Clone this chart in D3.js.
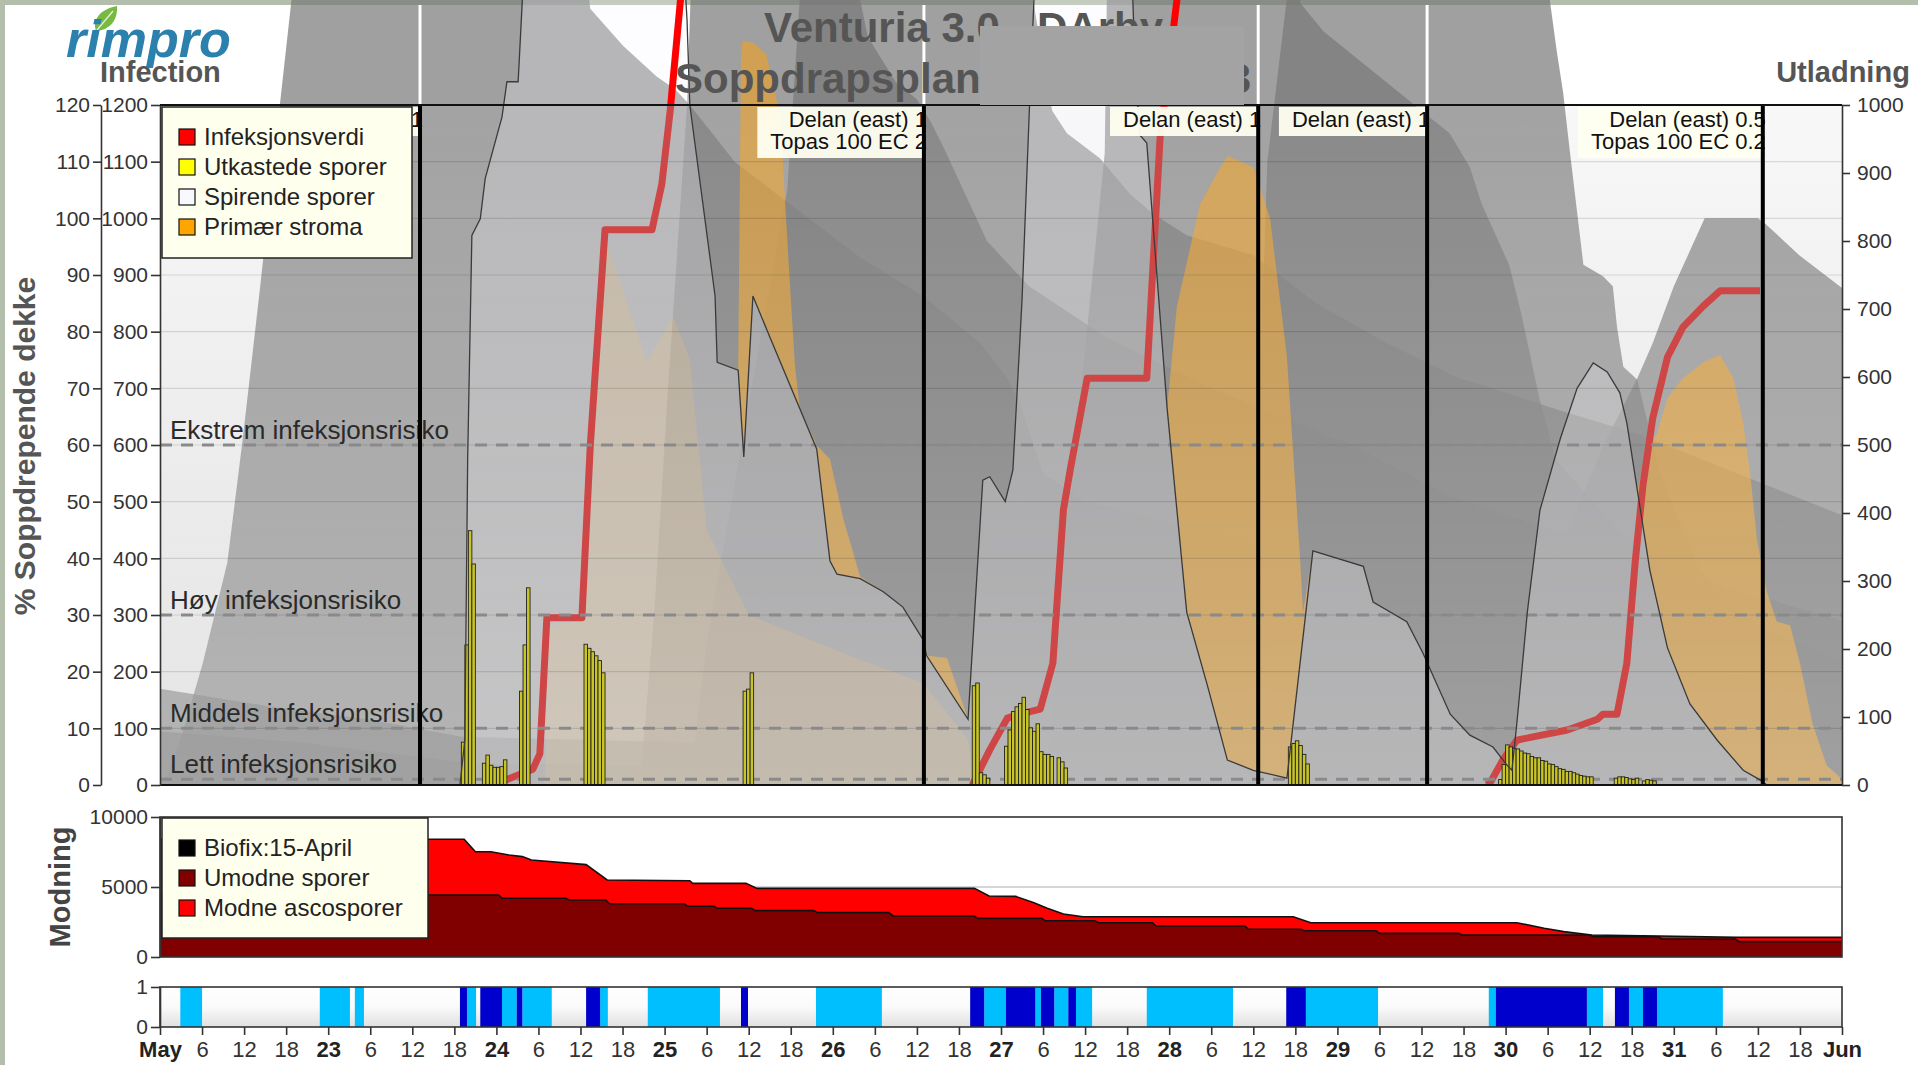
<!DOCTYPE html>
<html><head><meta charset="utf-8">
<script src="https://cdn.jsdelivr.net/npm/d3@7"></script>
<style>
body{margin:0;background:#fff;}
svg{display:block;}
text{font-family:"Liberation Sans",Arial,sans-serif;}
</style></head><body>
<script>
// time is in hours from 22 May 00:00, 10 days shown

// Infeksjonsverdi (inner left axis 0-1200), three infection periods
var infA = [[47.5,0],[50.4,14],[53.2,28],[54.2,55],[55.2,295],[60.2,295],[61.4,600],[63.5,980],[70.2,980],[71.6,1060],[72.8,1190],[74.3,1390],[75.3,1500]];
var infB = [[115.9,0],[118.4,62],[120.9,118],[122.7,125],[125.6,134],[127.4,215],[128.9,485],[129.9,558],[132.3,718],[140.8,718],[142.7,1142],[145.1,1385],[146.3,1500]];
var infC = [[189.3,0],[189.8,4],[191.6,44],[193.6,79],[195.9,85],[200.8,97],[205.1,116],[205.9,125],[207.9,125],[209.3,215],[210.5,395],[211.6,529],[213.0,648],[215.1,755],[217.3,808],[220.2,845],[222.6,872],[228.3,872]];

// Utkastede sporer (right axis 0-1000), half hour bars
var utkastede = [[43.0,63],[43.5,206],[44.0,374],[44.5,325],
  [46.0,32],[46.5,44],[47.0,29],[47.5,26],[48.0,26],[48.5,27],[49.0,37],
  [51.3,138],[51.8,206],[52.3,290],
  [60.5,207],[61.0,201],[61.5,196],[62.0,190],[62.5,183],[63.0,165],
  [83.2,138],[83.7,141],[84.2,165],
  [115.9,146],[116.4,150],[116.9,18],[117.4,15],[117.9,10],
  [120.5,57],[121.0,81],[121.5,108],[122.0,115],[122.5,120],[123.0,129],[123.5,111],[124.0,84],[124.5,79],[125.0,90],[125.5,49],[126.0,45],[126.5,45],[127.0,42],[128.0,40],[128.5,34],[129.0,25],
  [161.0,56],[161.5,61],[162.0,65],[162.5,58],[163.0,45],[163.5,31],
  [191.0,8],[191.5,30],[192.0,59],[192.5,56],[193.0,54],[193.5,53],[194.0,50],[194.5,47],[195.0,46],[195.5,42],[196.0,40],[196.5,40],[197.0,36],[197.5,35],[198.0,31],[198.5,30],[199.0,27],[199.5,24],[200.0,23],[200.5,20],[201.0,20],[201.5,18],[202.0,16],[202.5,14],[203.0,13],[203.5,12],[204.0,12],
  [207.5,10],[208.0,12],[208.5,12],[209.0,11],[209.5,9],[210.0,8],[210.5,10],
  [211.5,6],[212.0,8],[212.5,7],[213.0,6]];

// Spirende sporer (inner left axis)
var spirende = [[42.8,0],[43.5,80],[43.9,575],[44.5,970],[45.7,999],[46.4,1070],[48.8,1179],[49.5,1241],[51.1,1241],[51.7,1385],[53,1500],[74.5,1500],[75.2,1350],[75.6,1200],[79.2,863],[79.5,746],[82.5,732],[83.3,579],[84.6,863],[87.0,791],[93.7,593],[95.6,395],[96.6,372],[99.9,364],[103.2,341],[106.0,314],[108.9,256],[109.4,228],[115.3,116],[117.4,538],[118.4,544],[120.6,500],[121.7,556],[123.0,856],[124.1,1209],[124.7,1385],[125.5,1500],[138.5,1500],[139.1,1279],[139.8,1147],[140.8,1133],[143.7,665],[146.5,305],[149.4,178],[152.3,44],[156.0,26],[160.8,12],[164.5,413],[171.7,386],[173.1,323],[177.9,288],[180.2,233],[184.1,125],[186.9,88],[190.2,67],[192.2,35],[192.9,26],[193.6,108],[195.1,305],[196.9,485],[199.8,611],[202.2,700],[204.5,745],[206.5,729],[208.3,692],[209.3,639],[210.8,520],[212.6,378],[215.1,242],[218.3,143],[222.2,79],[225.9,26],[228.3,9],[229.3,0]];

// Primaer stroma, stacked on top of Spirende sporer (top of stack, inner axis)
var stromaTop1 = [[82.5,732],[82.9,1290],[83.1,1313],[84.6,1310],[86.5,1290],[88.5,1180],[89.8,900],[90.6,740],[91.3,664],[93.7,600],[95.6,575],[97.5,470],[99.9,368],[103.2,341],[108.9,256],[109.6,228],[112.3,224],[115.3,116]];
var stromaTop2 = [[143.7,665],[145.1,845],[148.4,1025],[151.3,1090],[152.4,1110],[156.0,1090],[158.4,1000],[160.8,755],[162.7,395],[163.1,305],[164.5,413]];
var stromaTop3 = [[210.8,520],[212.2,590],[213.6,620],[215.1,683],[217.3,718],[220.2,746],[222.6,759],[224.5,718],[225.9,639],[226.9,549],[227.9,430],[229.3,340],[230.7,288],[232.6,282],[234,215],[235.8,108],[237.8,35],[240,10]];
// pale stroma tint seen under the first infection (outer axis, %)
var stromaPale = [[54.9,0],[55.4,28],[60.6,29],[62.8,92.6],[63.8,95.3],[69.5,74.6],[73.2,82.8],[75.6,75],[78,45],[84,30],[100,22],[108.9,18],[115.3,8],[116.3,0]];

// Soppdrepende dekke (outer left axis, %)
var coverA = [[-1,0],[1,1.6],[2.9,7.9],[6.1,21.5],[9.6,39.2],[11.8,61],[14.3,88],[17.1,120],[18.8,139],[20,150],[60,150],[61.4,137],[66.1,130.4],[70.9,125],[73.5,122.8],[75.6,120],[82,110],[89.9,102.5],[100,93],[108.9,86.3],[117,78],[120.9,71.8],[122.7,67.4],[126,55],[132,50],[145,46],[165,40],[185,34],[210,27],[240,20]];
var coverB = [[68.5,0],[70.5,30],[72.5,70],[75.2,120],[76,150],[98,150],[101,132],[105,124],[108,121],[110,117],[112,112],[115,104],[118,96],[124,88],[135,79],[150,70],[170,60],[184,51],[215,38],[240,29]];
var coverC = [[75.6,0],[78,25],[85.2,75.5],[89.5,105],[91.3,139],[92,150],[123,150],[124.5,139],[127.3,119],[129.4,115],[134.1,110.6],[138.4,104.3],[141.7,100.8],[146.5,97],[156,93.5],[165,85],[175,78],[185,72],[200,66],[210.8,62],[225,55],[240,47.6]];
var coverD = [[126.6,0],[129.9,50],[132.7,85.6],[134.8,111.5],[135.1,139],[136,150],[197,150],[198.3,138.6],[199.3,129.5],[200.2,122.3],[201.2,111.5],[203.1,91.8],[205.9,89.8],[207.3,88],[207.9,80.8],[208.8,73.8],[210.8,71.5],[214,55],[219.7,38],[230,26],[240,18.5]];
var coverE = [[155.8,0],[156.7,60],[158,110],[160.8,139],[161.5,150],[162.3,150],[162.7,138],[166,133],[170,129],[175,124],[180,119],[184,115],[186.9,109],[188.6,102.5],[192.5,91.8],[194.3,82.8],[196.8,68.3],[199.1,57.5],[205.5,48.5],[212,40],[220,32],[240,22]];
var coverF = [[188.8,0],[193.6,21.5],[200,42],[206,60],[210.8,71.8],[213,78],[216,88],[220.4,100],[228,100],[229.1,99],[233.9,93.5],[240,87.7]];
var coverLow1 = [[0,17],[15,14],[30,11.5],[43,8.5],[60,8],[90,7],[120,6],[160,5],[200,4],[240,3.5]];
var coverLow2 = [[0,9.5],[20,7.5],[43,4],[80,3],[240,2]];
var coverLow3 = [[180,0],[181.5,23],[184,21.5],[240,17.8]];

// Modning (0-10000)
var modneTotal = [[0,8410],[43.4,8410],[45,7520],[47.2,7520],[49.8,7290],[51.7,7170],[53,6930],[60.8,6600],[63.8,5500],[75.6,5450],[76,5260],[83.6,5260],[85.2,4900],[116.2,4900],[118.3,4360],[122.1,4330],[124.7,3880],[126.6,3480],[128.9,3070],[131.7,2880],[161.7,2880],[164.2,2450],[193.6,2450],[197.5,2050],[200.3,1810],[204.3,1570],[213.9,1500],[225,1400],[240,1400]];
var umodne = [[0,4430],[48.3,4430],[48.8,4200],[57.9,4200],[58.4,4070],[63.6,4070],[64.1,3800],[74.8,3800],[75.3,3620],[79,3620],[79.5,3480],[84.4,3480],[84.9,3310],[93.3,3310],[93.8,3170],[104,3170],[104.6,2930],[116.2,2930],[116.7,2760],[125.8,2760],[126.3,2590],[133.4,2590],[133.9,2450],[141.6,2450],[142.1,2210],[154.8,2210],[155.3,1980],[162.8,1980],[163.3,1880],[173.5,1880],[174,1690],[185.3,1690],[185.8,1570],[204,1570],[204.5,1450],[213.8,1450],[214.3,1290],[224.8,1290],[225.3,1095],[240,1095]];

// bladfukt / regn band
var wetPeriods = [[2.9,6.0],[22.8,27.1],[27.8,29.1],[43.8,45.1],[48.8,50.9],[51.7,55.9],[62.8,63.9],[69.6,79.9],[93.6,103.0],[117.6,120.7],[124.9,125.7],[127.6,129.6],[130.7,133.0],[140.8,153.1],[163.5,173.8],[189.6,190.6],[203.6,205.9],[209.6,211.6],[213.6,223.0]];
var rainPeriods = [[42.8,43.8],[45.7,48.8],[50.9,51.7],[60.8,62.8],[82.9,83.9],[115.6,117.6],[120.7,124.9],[125.7,127.6],[129.6,130.7],[160.7,163.5],[190.6,203.6],[207.6,209.6],[211.6,213.6]];

// sprayings
var sprayHours = [37.1, 109.0, 156.7, 180.8, 228.7];
var sprayLabels = [["Delan (east) 1"], ["Delan (east) 1","Topas 100 EC 2"], ["Delan (east) 1"], ["Delan (east) 1"], ["Delan (east) 0.5","Topas 100 EC 0.2"]];

var riskLevels = [600, 300, 100, 10];
var riskLabels = ["Ekstrem infeksjonsrisiko", "Høy infeksjonsrisiko", "Middels infeksjonsrisiko", "Lett infeksjonsrisiko"];

var dayLabels = ["May","23","24","25","26","27","28","29","30","31","Jun"];
var legendMain = [["Infeksjonsverdi","#ff0000"],["Utkastede sporer","#ffff00"],["Spirende sporer","#f8f8ff"],["Primær stroma","#ffa500"]];
var legendMod = [["Biofix:15-April","#000000"],["Umodne sporer","#800000"],["Modne ascosporer","#ff0000"]];

var W = 1918, H = 1065;
var L = 160, R = 1842, T = 105, B = 785;

var svg = d3.select('body').append('svg').attr('width', W).attr('height', H);
svg.append('rect').attr('width', W).attr('height', H).attr('fill', '#fff');
svg.append('rect').attr('width', W).attr('height', 5).attr('fill', '#b3bfaa');
svg.append('rect').attr('width', 5).attr('height', H).attr('fill', '#b3bfaa');

var x = d3.scaleLinear().domain([0, 240]).range([L, R]);
var yInf = d3.scaleLinear().domain([0, 1200]).range([B, T]);
var yPct = d3.scaleLinear().domain([0, 120]).range([B, T]);
var yUtl = d3.scaleLinear().domain([0, 1000]).range([B, T]);
var yMod = d3.scaleLinear().domain([0, 10000]).range([957, 817]);
var yWet = d3.scaleLinear().domain([0, 1]).range([1027, 987]);
var plain = d3.format('d');

var defs = svg.append('defs');
function clip(id, x0, y0, w, h){
  defs.append('clipPath').attr('id', id).append('rect').attr('x', x0).attr('y', y0).attr('width', w).attr('height', h);
}
clip('clipAll', L, 0, R - L, B);
clip('clipAbove', L, 0, R - L, T);
clip('clipIn', L, T, R - L, B - T);
clip('clipMod', L, 817, R - L, 140);
function vgrad(id, stops){
  var g = defs.append('linearGradient').attr('id', id).attr('x1', 0).attr('y1', 0).attr('x2', 0).attr('y2', 1);
  stops.forEach(function(s){ g.append('stop').attr('offset', s[0]).attr('stop-color', s[1]).attr('stop-opacity', s[2]); });
}
vgrad('plotBg', [[0,'#f8f8f8',1],[1,'#dadada',1]]);
vgrad('fade', [[0,'#ffffff',0.05],[1,'#ffffff',0.3]]);
vgrad('wetBg', [[0,'#ffffff',1],[0.5,'#fafafa',1],[1,'#e0e0e0',1]]);

// value of a series at any hour (stroma is stacked on spirende)
var bis = d3.bisector(function(d){ return d[0]; }).left;
function valueAt(series, h){
  if (h < series[0][0] || h > series[series.length - 1][0]) return 0;
  var i = bis(series, h);
  if (series[i][0] === h) return series[i][1];
  var a = series[i - 1], b = series[i];
  return a[1] + (b[1] - a[1]) * (h - a[0]) / (b[0] - a[0]);
}
function stackBand(top){
  var h0 = top[0][0], h1 = top[top.length - 1][0];
  var hs = top.map(function(d){ return d[0]; })
    .concat(spirende.map(function(d){ return d[0]; }).filter(function(h){ return h > h0 && h < h1; }));
  hs = Array.from(new Set(hs)).sort(function(a, b){ return a - b; });
  return hs.map(function(h){
    var lo = valueAt(spirende, h);
    return [h, lo, Math.max(lo, valueAt(top, h))];
  });
}

// plot background
svg.append('rect').attr('x', L).attr('y', T).attr('width', R - L).attr('height', B - T).attr('fill', 'url(#plotBg)');

var chart = svg.append('g').attr('clip-path', 'url(#clipAll)');
var pctArea = d3.area().x(function(d){ return x(d[0]); }).y0(yPct(0)).y1(function(d){ return yPct(d[1]); });
var infBand = d3.area().x(function(d){ return x(d[0]); }).y0(function(d){ return yInf(d[1]); }).y1(function(d){ return yInf(d[2]); });
var infArea = d3.area().x(function(d){ return x(d[0]); }).y0(yInf(0)).y1(function(d){ return yInf(d[1]); });
var infLine = d3.line().x(function(d){ return x(d[0]); }).y(function(d){ return yInf(d[1]); });

// coverage layers
var coverAreas = [coverA, coverB, coverC, coverD, coverE, coverF, coverLow1, coverLow2, coverLow3];
chart.selectAll('path.cover').data(coverAreas).join('path').attr('class', 'cover')
  .attr('d', pctArea).attr('fill', '#777').attr('fill-opacity', 0.7);

// stroma
chart.append('path').attr('d', pctArea(stromaPale)).attr('fill', '#f4a020').attr('fill-opacity', 0.2);
chart.selectAll('path.stroma').data([stromaTop1, stromaTop2, stromaTop3]).join('path').attr('class', 'stroma')
  .attr('d', function(d){ return infBand(stackBand(d)); }).attr('fill', '#f2a020').attr('fill-opacity', 0.6);

// spirende fill
chart.append('path').attr('d', infArea(spirende)).attr('fill', '#f8f8ff').attr('fill-opacity', 0.25);

// lighten inside plot
chart.append('rect').attr('x', L).attr('y', T).attr('width', R - L).attr('height', B - T).attr('fill', 'url(#fade)');

// grid
d3.range(100, 1200, 100).forEach(function(v){
  chart.append('line').attr('x1', L).attr('x2', R).attr('y1', yInf(v)).attr('y2', yInf(v))
    .attr('stroke', '#000').attr('stroke-opacity', 0.12).attr('stroke-width', 1.2);
});

// infection value
[infA, infB, infC].forEach(function(s){
  chart.append('path').attr('d', infLine(s)).attr('clip-path', 'url(#clipIn)')
    .attr('fill', 'none').attr('stroke', '#cf4646').attr('stroke-width', 7).attr('stroke-linejoin', 'round');
  chart.append('path').attr('d', infLine(s)).attr('clip-path', 'url(#clipAbove)')
    .attr('fill', 'none').attr('stroke', '#ff0000').attr('stroke-width', 7).attr('stroke-linejoin', 'round');
});

// risk levels
riskLevels.forEach(function(v, i){
  chart.append('line').attr('x1', L).attr('x2', R).attr('y1', yInf(v)).attr('y2', yInf(v))
    .attr('stroke', '#8a8a8a').attr('stroke-width', 3).attr('stroke-dasharray', '12,9');
  chart.append('text').attr('x', L + 10).attr('y', yInf(v) - 6).text(riskLabels[i])
    .attr('font-size', 26).attr('fill', '#2a2a2a');
});

// ejected spores
var bw = x(0.5) - x(0);
chart.selectAll('rect.bar').data(utkastede).join('rect').attr('class', 'bar')
  .attr('x', function(d){ return x(d[0]); }).attr('width', bw)
  .attr('y', function(d){ return yUtl(d[1]); }).attr('height', function(d){ return B - yUtl(d[1]); })
  .attr('fill', '#c8c426').attr('stroke', '#222').attr('stroke-width', 0.9);

// germinating spores outline
chart.append('path').attr('d', infLine(spirende)).attr('fill', 'none').attr('stroke', '#3a3a3a').attr('stroke-width', 1.3);

// spray labels and lines
sprayHours.forEach(function(h, i){
  var sx = x(h);
  var g = svg.append('g');
  var texts = sprayLabels[i].map(function(t, j){
    return g.append('text').attr('x', sx + 3).attr('y', T + 22 + j * 22).attr('text-anchor', 'end')
      .attr('font-size', 22).attr('fill', '#111').text(t);
  });
  var wmax = d3.max(texts, function(t){ return t.node().getComputedTextLength(); });
  g.insert('rect', 'text').attr('x', sx - wmax - 10).attr('y', T + 2).attr('width', wmax + 10)
    .attr('height', sprayLabels[i].length * 22 + 7).attr('fill', '#fffff0').attr('fill-opacity', 0.95);
  svg.append('line').attr('x1', sx).attr('x2', sx).attr('y1', T).attr('y2', B).attr('stroke', '#000').attr('stroke-width', 4);
  svg.append('line').attr('x1', sx).attr('x2', sx).attr('y1', 5).attr('y2', T - 1).attr('stroke', '#fff').attr('stroke-width', 3);
});

// plot frame and axes
svg.append('line').attr('x1', L).attr('x2', R).attr('y1', T).attr('y2', T).attr('stroke', '#111').attr('stroke-width', 2);
svg.append('line').attr('x1', L).attr('x2', R).attr('y1', B).attr('y2', B).attr('stroke', '#111').attr('stroke-width', 2);

function styleAxis(g, fs){
  g.selectAll('.domain').attr('stroke', '#333').attr('stroke-width', 1.6);
  g.selectAll('.tick line').attr('stroke', '#333').attr('stroke-width', 1.6);
  g.selectAll('.tick text').attr('font-size', fs).attr('fill', '#333').attr('font-family', '"Liberation Sans",Arial,sans-serif');
}
var axOuter = svg.append('g').attr('transform', 'translate(101,0)')
  .call(d3.axisLeft(yPct).tickValues(d3.range(0, 121, 10)).tickSize(8).tickSizeOuter(0).tickFormat(plain));
styleAxis(axOuter, 21);
var axInner = svg.append('g').attr('transform', 'translate(' + L + ',0)')
  .call(d3.axisLeft(yInf).tickValues(d3.range(0, 1201, 100)).tickSize(9).tickSizeOuter(0).tickFormat(plain));
styleAxis(axInner, 21);
var axRight = svg.append('g').attr('transform', 'translate(' + R + ',0)')
  .call(d3.axisRight(yUtl).tickValues(d3.range(0, 1001, 100)).tickSize(8).tickSizeOuter(0).tickPadding(7).tickFormat(plain));
styleAxis(axRight, 21);

// legend
var lg = svg.append('g');
lg.append('rect').attr('x', 162).attr('y', 107).attr('width', 250).attr('height', 151)
  .attr('fill', '#ffffee').attr('stroke', '#222').attr('stroke-width', 1.5);
legendMain.forEach(function(d, i){
  var cy = 137 + i * 30;
  lg.append('rect').attr('x', 179).attr('y', cy - 8).attr('width', 16).attr('height', 16)
    .attr('fill', d[1]).attr('stroke', '#111').attr('stroke-width', 1.2);
  lg.append('text').attr('x', 204).attr('y', cy + 8).attr('font-size', 24).attr('fill', '#222').text(d[0]);
});

// titles
svg.append('text').attr('x', 764).attr('y', 42).attr('font-size', 42).attr('font-weight', 'bold').attr('fill', '#555').text('Venturia 3.0 - DArby');
svg.append('text').attr('x', 675).attr('y', 93).attr('font-size', 42).attr('font-weight', 'bold').attr('fill', '#555').text('Soppdrapsplan');
svg.append('text').attr('x', 1251).attr('y', 93).attr('text-anchor', 'end').attr('font-size', 42).attr('font-weight', 'bold').attr('fill', '#555').text('2023');
svg.append('rect').attr('x', 980).attr('y', 26).attr('width', 264).attr('height', 79).attr('fill', '#a3a3a3');

// logo
svg.append('path').attr('d', 'M96,31 C92,20 100,9 117,6 C118,20 110,30 96,31 Z').attr('fill', '#78b943');
svg.append('path').attr('d', 'M97,30 L113,11').attr('stroke', '#e8f4dc').attr('stroke-width', 1.2).attr('fill', 'none');
svg.append('text').attr('x', 66).attr('y', 57).attr('font-family', '"Open Sans",sans-serif').attr('font-style', 'italic')
  .attr('font-weight', 700).attr('font-size', 52).attr('fill', '#2b80ad').text('rimpro');
svg.append('text').attr('x', 100).attr('y', 82).attr('font-size', 29).attr('font-weight', 'bold').attr('fill', '#555').text('Infection');
svg.append('text').attr('x', 1843).attr('y', 82).attr('text-anchor', 'middle').attr('font-size', 29).attr('font-weight', 'bold').attr('fill', '#555').text('Utladning');
svg.append('text').attr('transform', 'translate(35,446) rotate(-90)').attr('text-anchor', 'middle')
  .attr('font-size', 30).attr('font-weight', 'bold').attr('fill', '#555').text('% Soppdrepende dekke');

// Modning panel
svg.append('rect').attr('x', L).attr('y', 817).attr('width', R - L).attr('height', 140).attr('fill', '#fff');
svg.append('line').attr('x1', L).attr('x2', R).attr('y1', yMod(5000)).attr('y2', yMod(5000)).attr('stroke', '#c8c8c8').attr('stroke-width', 1.5);
var modArea = d3.area().x(function(d){ return x(d[0]); }).y0(yMod(0)).y1(function(d){ return yMod(d[1]); });
var modLine = d3.line().x(function(d){ return x(d[0]); }).y(function(d){ return yMod(d[1]); });
var mg = svg.append('g').attr('clip-path', 'url(#clipMod)');
mg.append('path').attr('d', modArea(modneTotal)).attr('fill', '#ff0000');
mg.append('path').attr('d', modLine(modneTotal)).attr('fill', 'none').attr('stroke', '#111').attr('stroke-width', 1.6);
mg.append('path').attr('d', modArea(umodne)).attr('fill', '#800000');
mg.append('path').attr('d', modLine(umodne)).attr('fill', 'none').attr('stroke', '#111').attr('stroke-width', 1.6);
svg.append('rect').attr('x', L).attr('y', 817).attr('width', R - L).attr('height', 140).attr('fill', 'none').attr('stroke', '#333').attr('stroke-width', 1.6);
var axMod = svg.append('g').attr('transform', 'translate(' + L + ',0)')
  .call(d3.axisLeft(yMod).tickValues([0, 5000, 10000]).tickSize(9).tickSizeOuter(0).tickFormat(plain));
styleAxis(axMod, 21);
var lm = svg.append('g');
lm.append('rect').attr('x', 162).attr('y', 818).attr('width', 266).attr('height', 120)
  .attr('fill', '#ffffee').attr('stroke', '#222').attr('stroke-width', 1.5);
legendMod.forEach(function(d, i){
  var cy = 848 + i * 30;
  lm.append('rect').attr('x', 179).attr('y', cy - 8).attr('width', 16).attr('height', 16)
    .attr('fill', d[1]).attr('stroke', '#111').attr('stroke-width', 1.2);
  lm.append('text').attr('x', 204).attr('y', cy + 8).attr('font-size', 24).attr('fill', '#222').text(d[0]);
});
svg.append('text').attr('transform', 'translate(70,887) rotate(-90)').attr('text-anchor', 'middle')
  .attr('font-size', 29).attr('font-weight', 'bold').attr('fill', '#444').text('Modning');

// wetness band
svg.append('rect').attr('x', L).attr('y', 987).attr('width', R - L).attr('height', 40).attr('fill', 'url(#wetBg)');
svg.selectAll('rect.wet').data(wetPeriods).join('rect').attr('class', 'wet')
  .attr('x', function(d){ return x(d[0]); }).attr('width', function(d){ return x(d[1]) - x(d[0]); })
  .attr('y', 987).attr('height', 40).attr('fill', '#00bfff');
svg.selectAll('rect.rain').data(rainPeriods).join('rect').attr('class', 'rain')
  .attr('x', function(d){ return x(d[0]); }).attr('width', function(d){ return x(d[1]) - x(d[0]); })
  .attr('y', 987).attr('height', 40).attr('fill', '#0000cd');
svg.append('rect').attr('x', L).attr('y', 987).attr('width', R - L).attr('height', 40).attr('fill', 'none').attr('stroke', '#333').attr('stroke-width', 1.6);
var axWet = svg.append('g').attr('transform', 'translate(' + L + ',0)')
  .call(d3.axisLeft(yWet).tickValues([0, 1]).tickSize(9).tickSizeOuter(0).tickFormat(plain));
styleAxis(axWet, 21);

// time axis
var axX = svg.append('g').attr('transform', 'translate(0,1027)')
  .call(d3.axisBottom(x).tickValues(d3.range(0, 241, 6)).tickSize(8).tickSizeOuter(0).tickPadding(6)
    .tickFormat(function(h){ return h % 24 === 0 ? dayLabels[h / 24] : String(h % 24); }));
styleAxis(axX, 22);
axX.select('.domain').remove();
axX.selectAll('.tick text').attr('font-weight', function(h){ return h % 24 === 0 ? 'bold' : 'normal'; })
  .attr('fill', function(h){ return h % 24 === 0 ? '#222' : '#333'; });
</script></body></html>
